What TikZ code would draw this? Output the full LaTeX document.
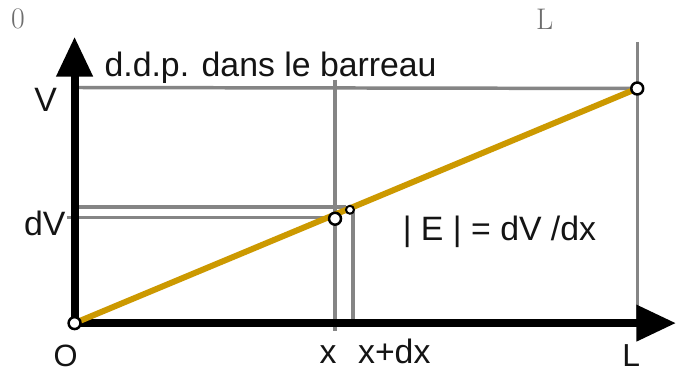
\documentclass[tikz,border=0pt]{standalone}
\usepackage{fontspec}
\setsansfont{Liberation Sans}
\usetikzlibrary{arrows.meta,calc,positioning}
\definecolor{barInk}{HTML}{141414}
\definecolor{barGrey}{HTML}{858585}
\definecolor{barGold}{HTML}{CC9900}
\definecolor{barNote}{HTML}{6E6E6E}

\begin{document}
\begin{tikzpicture}[x=1pt,y=-1pt,line join=miter]
\path[fill=white] (0,0) rectangle (680,376);
\tikzset{axis/.style={draw=black,line width=8pt,{Triangle[length=40pt,width=35pt]}-{Triangle[length=40pt,width=35pt]}},guide/.style={draw=barGrey,line width=3.5pt},rod/.style={draw=barGold,line width=6pt},dot/.style={circle,draw=black,fill=white,line width=2.5pt,inner sep=0pt,minimum size=12pt},smalldot/.style={dot,line width=2pt,minimum size=8pt},lab/.style={text=barInk,font=\sffamily\fontsize{34}{40}\selectfont,inner sep=0pt}}
\coordinate (o) at (75,325); \coordinate (yTip) at (75,37); \coordinate (xTip) at (680,325);
\coordinate (pL) at (641,89); \coordinate (pX) at (337,220); \coordinate (pXdx) at (352,211);
\coordinate (vTop) at (73,88); \coordinate (lTop) at (641,42); \coordinate (lBot) at (641,325);
\coordinate (xTop) at (337,80); \coordinate (xBot) at (337,333);
\coordinate (dxBot) at (355,327); \coordinate (dxTop) at (355,211);
\coordinate (hiL) at (75,208); \coordinate (hiR) at (348,208);
\coordinate (loL) at (67,219); \coordinate (loR) at (333,219);
\draw[guide] (vTop) -- (pL);
\draw[guide] (lTop) -- (lBot);
\draw[guide] (xTop) -- (xBot);
\draw[guide] (dxTop) -- (dxBot);
\draw[guide] (hiL) -- (hiR);
\draw[guide] (loL) -- (loR);
\draw[axis] (yTip) -- (o) -- (xTip);
\draw[rod] (o) -- (pL);
\node[dot] (oDot) at (o) {}; \node[dot] (lDot) at (pL) {};
\node[dot] (xDot) at (pX) {}; \node[smalldot] (dxDot) at (pXdx) {};
\node[lab,anchor=base west] (title) at (105,77) {d.d.p. dans le barreau};
\node[lab,anchor=base] (vLab) at (46,112) {V};
\node[lab,anchor=base east] (dvLab) at (66,237) {dV};
\node[lab,anchor=base west] (eLab) at (405,242) {| E | = dV /dx};
\node[lab,anchor=base] (xLab) at (330,366) {x};
\node[lab,anchor=base west] (xdxLab) at (360,366) {x+dx};
\node[lab,anchor=base,font=\sffamily\fontsize{31}{36}\selectfont] (oLab) at (66,369) {O};
\node[lab,anchor=base,font=\sffamily\fontsize{32}{36}\selectfont] (lLab) at (635,369) {L};
\node[text=barNote,font=\fontsize{30}{34}\selectfont,inner sep=0pt] (zeroNote) at (18,19) {0};
\node[text=barNote,font=\fontsize{30}{34}\selectfont,inner sep=0pt] (lNote) at (548,19) {L};
\end{tikzpicture}
\end{document}
